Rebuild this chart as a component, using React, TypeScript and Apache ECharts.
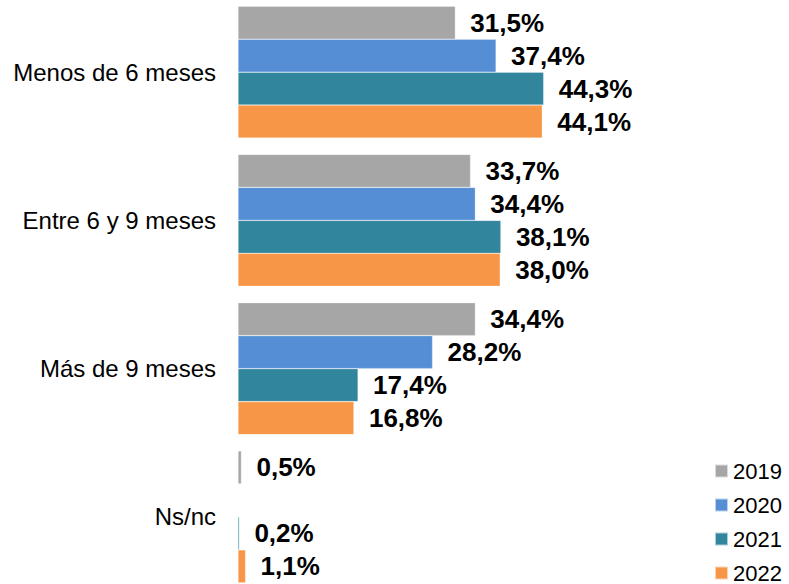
import React, { useEffect, useRef } from "react";
import * as echarts from "echarts";

const categories = ["Menos de 6 meses", "Entre 6 y 9 meses", "Más de 9 meses", "Ns/nc"];
const seriesNames = ["2019", "2020", "2021", "2022"];
const values2019 = [31.5, 33.7, 34.4, 0.5];
const values2020: (number | null)[] = [37.4, 34.4, 28.2, null];
const values2021 = [44.3, 38.1, 17.4, 0.2];
const values2022 = [44.1, 38.0, 16.8, 1.1];
const colors = ["#A6A6A6", "#558ED5", "#31859C", "#F79646"];

const FONT = "'Liberation Sans', Arial, sans-serif";

export default function App() {
  const ref = useRef<HTMLDivElement>(null);
  useEffect(() => {
    if (!ref.current) return;
    const chart = echarts.init(ref.current, null, { renderer: "svg" });
    const data = [values2019, values2020, values2021, values2022];
    chart.setOption({
      animation: false,
      backgroundColor: "#ffffff",
      grid: {
        left: 238,
        top: -2,
        width: 345,
        height: 593,
        containLabel: false,
        outerBoundsMode: "none",
      },
      xAxis: {
        type: "value",
        min: 0,
        max: 50,
        show: false,
      },
      yAxis: {
        type: "category",
        inverse: true,
        data: categories,
        axisLine: { show: false },
        axisTick: { show: false },
        splitLine: { show: false },
        axisLabel: {
          color: "#000",
          fontSize: 24,
          fontFamily: FONT,
          margin: 22,
        },
      },
      legend: {
        orient: "vertical",
        left: 714,
        top: 460,
        height: 140,
        padding: 0,
        itemWidth: 13,
        itemHeight: 13,
        itemGap: 12,
        icon: "rect",
        data: seriesNames,
        textStyle: {
          color: "#000",
          fontSize: 22,
          fontFamily: FONT,
          lineHeight: 21.5,
        },
      },
      series: seriesNames.map((name, i) => ({
        name,
        type: "bar",
        data: data[i],
        barGap: "0%",
        barCategoryGap: "11%",
        itemStyle: { color: colors[i], borderColor: "rgba(255,255,255,0.6)", borderWidth: 0.5 },
        label: {
          show: true,
          position: "right",
          distance: 15,
          color: "#000",
          fontWeight: "bold",
          fontSize: 26,
          fontFamily: FONT,
          formatter: (p: any) =>
            p.value == null ? "" : Number(p.value).toFixed(1).replace(".", ",") + "%",
        },
      })),
    });
    return () => chart.dispose();
  }, []);
  return (
    <div
      ref={ref}
      style={{ position: "fixed", left: 0, top: 0, width: 789, height: 584 }}
    />
  );
}
